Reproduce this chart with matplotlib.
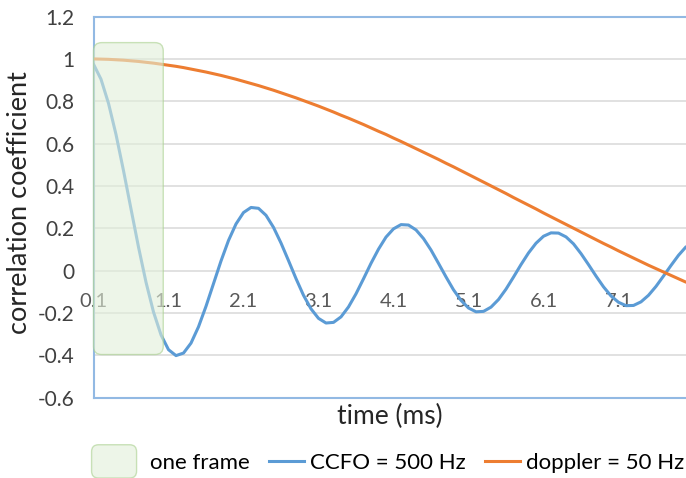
import numpy as np
import matplotlib
matplotlib.use("Agg")
import matplotlib.pyplot as plt
from matplotlib.patches import FancyBboxPatch
from matplotlib.lines import Line2D
from matplotlib.legend_handler import HandlerPatch

plt.rcParams["font.family"] = ["Lato", "DejaVu Sans"]

# correlation vs. lag, sampled every 0.1 ms from 0.1 to 8.0 ms
time_ms = np.round(np.arange(1, 81) * 0.1, 1)
ccfo_500 = [
    0.975, 0.904, 0.790, 0.643, 0.472, 0.291, 0.111, -0.055, -0.196, -0.304,
    -0.374, -0.402, -0.390, -0.343, -0.266, -0.169, -0.062, 0.045, 0.142, 0.220,
    0.274, 0.298, 0.294, 0.261, 0.204, 0.130, 0.047, -0.038, -0.117, -0.181,
    -0.226, -0.248, -0.245, -0.219, -0.172, -0.110, -0.039, 0.034, 0.101, 0.158,
    0.197, 0.217, 0.215, 0.192, 0.151, 0.097, 0.034, -0.030, -0.091, -0.141,
    -0.177, -0.195, -0.193, -0.173, -0.137, -0.088, -0.031, 0.028, 0.083, 0.129,
    0.162, 0.178, 0.177, 0.159, 0.126, 0.080, 0.028, -0.026, -0.077, -0.120,
    -0.150, -0.166, -0.165, -0.148, -0.117, -0.075, -0.026, 0.024, 0.072, 0.112,
]
doppler_50 = [
    1.000, 0.999, 0.998, 0.996, 0.994, 0.991, 0.988, 0.984, 0.980, 0.975,
    0.970, 0.965, 0.959, 0.952, 0.945, 0.938, 0.930, 0.922, 0.913, 0.904,
    0.894, 0.884, 0.874, 0.863, 0.852, 0.840, 0.828, 0.816, 0.803, 0.790,
    0.777, 0.763, 0.749, 0.734, 0.720, 0.705, 0.690, 0.674, 0.658, 0.643,
    0.626, 0.610, 0.593, 0.576, 0.559, 0.542, 0.525, 0.507, 0.490, 0.472,
    0.454, 0.436, 0.418, 0.400, 0.382, 0.364, 0.345, 0.327, 0.309, 0.291,
    0.272, 0.254, 0.236, 0.218, 0.200, 0.182, 0.164, 0.146, 0.128, 0.111,
    0.093, 0.076, 0.059, 0.042, 0.025, 0.009, -0.007, -0.023, -0.039, -0.055,
]
x_ticks = [0.1, 1.1, 2.1, 3.1, 4.1, 5.1, 6.1, 7.1]
y_ticks = [-0.6, -0.4, -0.2, 0, 0.2, 0.4, 0.6, 0.8, 1.0, 1.2]
y_ticklabels = ["-0.6", "-0.4", "-0.2", "0", "0.2", "0.4", "0.6", "0.8", "1", "1.2"]
# shaded "one frame" window (ms, correlation)
frame_t = (0.1, 1.03)
frame_y = (-0.397, 1.077)

BLUE, ORANGE = "#5B9BD5", "#ED7D31"
FRAME_FC, FRAME_EC = "#E2EFD9", "#A9D08E"
EDGE = "#92B9E3"

fig = plt.figure(figsize=(6.86, 4.78), dpi=100)
ax = fig.add_axes([0.1363, 0.1684, 0.8637, 0.7969])
ax.set_xlim(0.1, 8.0)
ax.set_ylim(-0.6, 1.2)

ax.plot(time_ms, ccfo_500, color=BLUE, lw=2.2, solid_capstyle="round", zorder=3)
ax.plot(time_ms, doppler_50, color=ORANGE, lw=2.2, solid_capstyle="round", zorder=3)

# rounded box over the first frame; aspect keeps the corners circular
asp = (1.0 / ax.bbox.height * 1.8) / (1.0 / ax.bbox.width * 7.9)
box = FancyBboxPatch((frame_t[0], frame_y[0]), frame_t[1] - frame_t[0], frame_y[1] - frame_y[0],
                     boxstyle="round,pad=0,rounding_size=0.11", mutation_aspect=asp,
                     facecolor=FRAME_FC, edgecolor=FRAME_EC, lw=1.0, alpha=0.6,
                     zorder=5, clip_on=False)
ax.add_patch(box)

ax.set_yticks(y_ticks)
ax.set_yticklabels(y_ticklabels)
ax.tick_params(axis="y", length=0, pad=14, labelsize=15, labelcolor="#404040")
ax.set_xticks([])
ax.grid(axis="y", color="#D9D9D9", lw=1.1, zorder=0)
for side in ("left", "top", "bottom"):
    ax.spines[side].set_color(EDGE)
    ax.spines[side].set_linewidth(1.5)
ax.spines["right"].set_visible(False)

# category labels sit on the zero line
sec = ax.secondary_xaxis(0.6 / 1.8)
sec.set_xticks(x_ticks)
sec.set_xticklabels([f"{v:.1f}" for v in x_ticks])
sec.tick_params(length=0, pad=16, labelsize=14.5, labelcolor="#595959")
sec.spines["bottom"].set_visible(False)

ax.set_ylabel("correlation coefficient", fontsize=19.5, color="#262626")
ax.yaxis.set_label_coords(-0.104, 0.511)
ax.set_xlabel("time (ms)", fontsize=19, color="#262626")
ax.xaxis.set_label_coords(0.5, -0.018)


def frame_handle(legend, orig_handle, xdescent, ydescent, width, height, fontsize):
    return FancyBboxPatch((-xdescent - 12.6, -ydescent + height / 2 - 12), 32.4, 24,
                          boxstyle="round,pad=0,rounding_size=5")


handles = [
    FancyBboxPatch((0, 0), 1, 1, facecolor=FRAME_FC, edgecolor=FRAME_EC, lw=1.0, alpha=0.6),
    Line2D([], [], color=BLUE, lw=2.2),
    Line2D([], [], color=ORANGE, lw=2.2),
]
labels = ["one frame", "CCFO = 500 Hz", "doppler = 50 Hz"]
fig.legend(handles, labels, loc="center", bbox_to_anchor=(0.578, 0.031), ncol=3,
           frameon=False, fontsize=16, handlelength=1.6, handletextpad=0.25,
           columnspacing=0.85, labelcolor="#000000",
           handler_map={FancyBboxPatch: HandlerPatch(patch_func=frame_handle)})

fig.savefig("out.png", dpi=100, facecolor="white")
